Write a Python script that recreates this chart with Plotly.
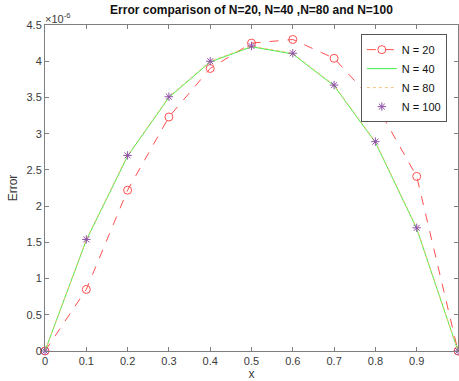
import plotly.graph_objects as go

# data (error values in units of 1e-6)
x = [0, 0.1, 0.2, 0.3, 0.4, 0.5, 0.6, 0.7, 0.8, 0.9, 1.0]
err_n20 = [0, 0.85, 2.22, 3.23, 3.90, 4.25, 4.30, 4.04, 3.42, 2.41, 0]
err_n40 = [0, 1.53, 2.69, 3.50, 3.99, 4.20, 4.10, 3.66, 2.88, 1.69, 0]
err_n80 = [0, 1.54, 2.70, 3.51, 4.00, 4.21, 4.11, 3.67, 2.89, 1.70, 0]
err_n100 = [0, 1.54, 2.70, 3.51, 4.00, 4.21, 4.11, 3.67, 2.89, 1.70, 0]
xticks = [0, 0.1, 0.2, 0.3, 0.4, 0.5, 0.6, 0.7, 0.8, 0.9, 1]
xticklabels = ["0", "0.1", "0.2", "0.3", "0.4", "0.5", "0.6", "0.7", "0.8", "0.9", "1"]
yticks = [0, 0.5, 1, 1.5, 2, 2.5, 3, 3.5, 4, 4.5]
yticklabels = ["0", "0.5", "1", "1.5", "2", "2.5", "3", "3.5", "4", "4.5"]

FONT = "Liberation Sans, Arial, sans-serif"
AX = "#7f7f7f"
TXT = "#3a3a3a"

fig = go.Figure()
fig.add_trace(go.Scatter(x=x, y=err_n20, name="N = 20", mode="lines+markers",
                         line=dict(color="#ff5050", width=1, dash="dash"),
                         marker=dict(symbol="circle-open", size=8, color="#ff5050",
                                     line=dict(width=1)),
                         cliponaxis=False))
fig.add_trace(go.Scatter(x=x, y=err_n40, name="N = 40", mode="lines",
                         line=dict(color="#44ee44", width=1), cliponaxis=False))
fig.add_trace(go.Scatter(x=x, y=err_n80, name="N = 80", mode="lines",
                         line=dict(color="#f2c27a", width=1, dash="dot"), cliponaxis=False))
fig.add_trace(go.Scatter(x=x, y=err_n100, name="N = 100", mode="markers",
                         marker=dict(symbol="asterisk-open", size=7, color="#9050a8",
                                     line=dict(width=1, color="#9050a8")),
                         cliponaxis=False))

axis_common = dict(showline=True, linecolor=AX, linewidth=1, mirror="allticks",
                   ticks="inside", ticklen=4, tickcolor=AX, showgrid=False,
                   zeroline=False, tickfont=dict(family=FONT, size=11, color=TXT))

fig.update_layout(
    width=459, height=381,
    margin=dict(l=45, r=1, t=25, b=30),
    paper_bgcolor="white", plot_bgcolor="white",
    title=dict(text="<b>Error comparison of N=20, N=40 ,N=80 and N=100</b>",
               x=0.5, xref="paper", xanchor="center", y=1, yref="container",
               yanchor="top", pad=dict(t=6),
               font=dict(family=FONT, size=12, color="#111111")),
    xaxis=dict(range=[0, 1], tickvals=xticks, ticktext=xticklabels,
               title=dict(text="x", standoff=4, font=dict(family=FONT, size=12, color=TXT)),
               **axis_common),
    yaxis=dict(range=[0, 4.5], tickvals=yticks, ticktext=yticklabels,
               title=dict(text="Error", standoff=6, font=dict(family=FONT, size=12, color=TXT)),
               **axis_common),
    legend=dict(x=0.973, y=0.972, xanchor="right", yanchor="top",
                bgcolor="white", bordercolor="#555555", borderwidth=1,
                font=dict(family=FONT, size=11, color="#111111"),
                tracegroupgap=0, itemwidth=30),
    showlegend=True,
)
fig.add_annotation(text="×10<sup>-6</sup>", xref="paper", yref="paper", x=0, y=1,
                   xanchor="left", yanchor="bottom", showarrow=False,
                   font=dict(family=FONT, size=11, color=TXT), xshift=-2, yshift=-2)

fig.write_html("out.html")
